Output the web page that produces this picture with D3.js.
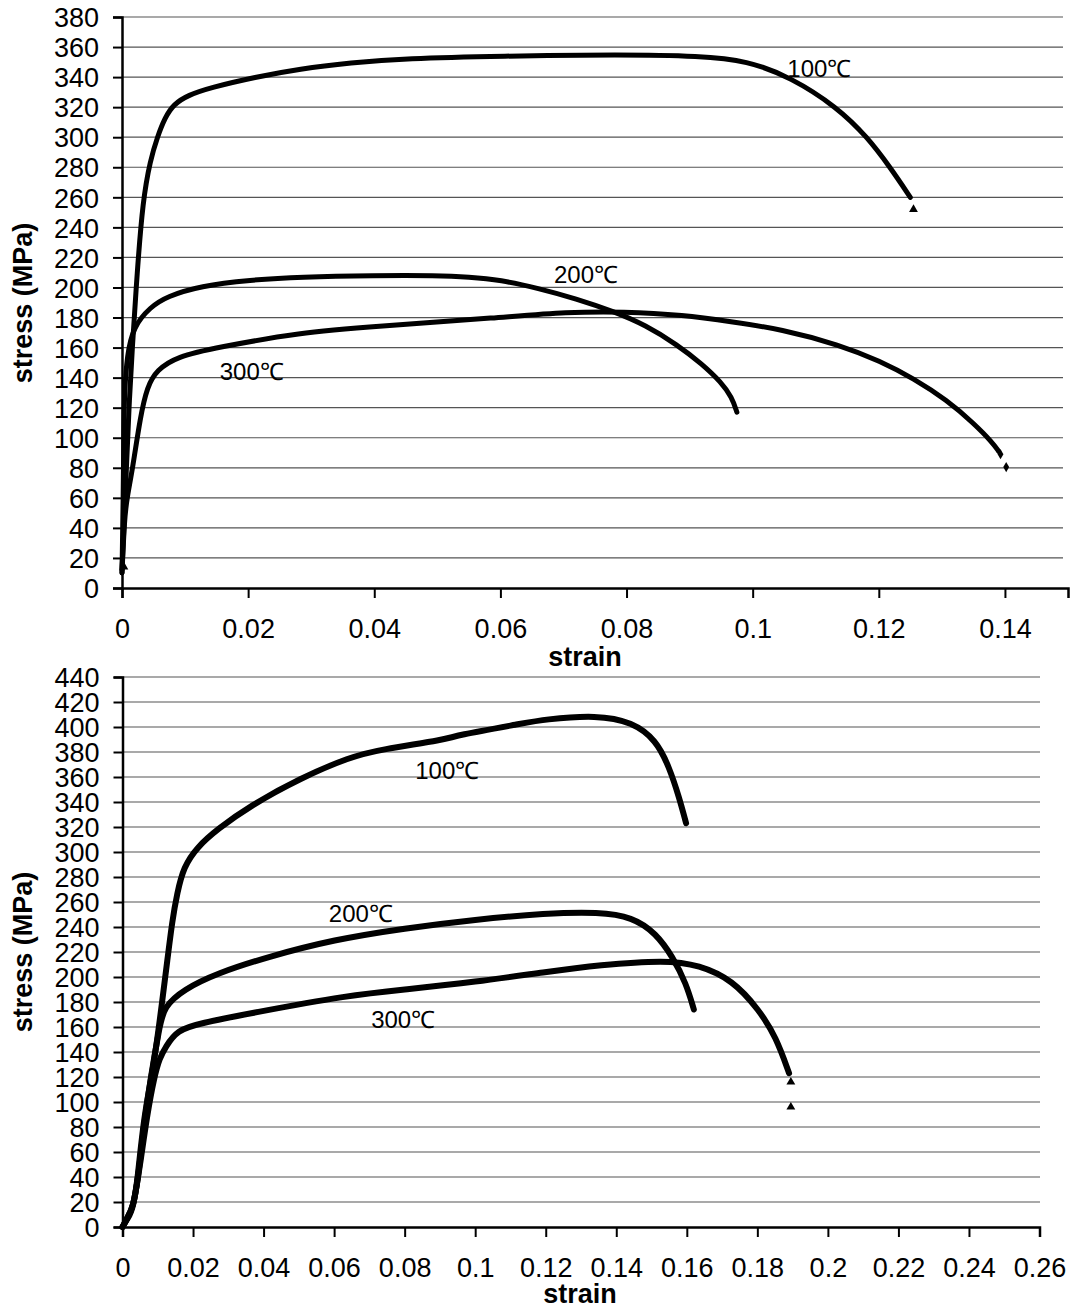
<!DOCTYPE html>
<html>
<head>
<meta charset="utf-8">
<script src="https://cdn.jsdelivr.net/npm/d3@7/dist/d3.min.js"></script>
<style>
  html, body { margin: 0; padding: 0; background: #fff; }
  svg { display: block; }
  text { font-family: "Liberation Sans", Arial, Helvetica, sans-serif; fill: #000; }
</style>
</head>
<body>
<svg id="chart" width="1075" height="1310"></svg>
<script>
// ---------- DATA: top panel ----------
const topXTicks = [0, 0.02, 0.04, 0.06, 0.08, 0.1, 0.12, 0.14];
const topYTicks = d3.range(0, 381, 20);
const top100 = [[0,12],[0.0003,40],[0.0007,80],[0.0011,120],[0.0016,158],[0.0024,210],[0.0033,258],[0.0045,285],[0.0056,300],[0.0068,313],[0.0082,322],[0.0105,328],[0.014,333],[0.0211,340],[0.0282,345.5],[0.0362,349.5],[0.045,352.5],[0.06,354],[0.0793,355],[0.0917,354],[0.0991,351],[0.106,340],[0.1134,320],[0.1182,300],[0.1218,280],[0.125,260]];
const top200 = [[0,10],[0.0002,60],[0.0003,110],[0.0004,130],[0.0008,155],[0.0018,174],[0.0045,187],[0.0071,194],[0.0124,201],[0.0203,205],[0.0282,207],[0.04,208],[0.05,208],[0.055,207],[0.06,205],[0.066,199.5],[0.072,192.5],[0.078,184],[0.083,175],[0.088,162],[0.092,149],[0.095,137],[0.0967,127],[0.0975,117]];
const top300 = [[0,10],[0.0004,47],[0.0008,60],[0.0017,80],[0.0029,114],[0.004,134],[0.0055,145],[0.0087,154],[0.015,160],[0.0282,170],[0.04,174],[0.06,180],[0.0706,183.7],[0.0795,184],[0.089,181.7],[0.0969,177],[0.1044,172.4],[0.1139,161.7],[0.1202,151],[0.1255,139.5],[0.1308,125],[0.135,109.8],[0.1381,96.5],[0.139,91]];
const topTriangles = [[0.1255,252],[0.0003,14]];
const topDiamonds = [[0.1393,89],[0.1402,80.5]];
const topLabels = [{t:"100℃", x:0.1055, y:346}, {t:"200℃", x:0.0685, y:209}, {t:"300℃", x:0.0155, y:144}];

// ---------- DATA: bottom panel ----------
const botXTicks = [0,0.02,0.04,0.06,0.08,0.1,0.12,0.14,0.16,0.18,0.2,0.22,0.24,0.26];
const botYTicks = d3.range(0, 441, 20);
const bot100 = [[0,0],[0.0015,8],[0.003,16],[0.0042,35],[0.006,88],[0.0088,128],[0.0107,168],[0.0127,213],[0.0141,245],[0.0155,267],[0.0173,288],[0.0212,304],[0.0268,318],[0.0362,337],[0.0504,359],[0.0645,376],[0.073,382],[0.092,390],[0.094,393],[0.1137,403],[0.1193,406],[0.1346,409.6],[0.1445,404],[0.1513,389.6],[0.155,368],[0.1578,344],[0.1598,323]];
const bot200 = [[0,0],[0.0015,8],[0.003,16],[0.0045,40],[0.006,80],[0.008,120],[0.0105,160],[0.0117,176],[0.0173,190],[0.0268,203],[0.041,216],[0.06,230],[0.08,239],[0.1,246],[0.12,251],[0.1352,252],[0.1445,248],[0.1513,235],[0.156,216],[0.1598,195],[0.162,174]];
const bot300 = [[0,0],[0.0015,7],[0.003,14],[0.005,50],[0.007,90],[0.009,120],[0.0105,135],[0.0122,144],[0.0155,157.6],[0.022,163],[0.0362,171],[0.0645,185.6],[0.08,190],[0.1,196],[0.12,204],[0.1352,209.6],[0.154,213.6],[0.1635,209.6],[0.173,197.6],[0.1805,173.6],[0.1853,152],[0.189,123]];
const botTriangles = [[0.1895,116],[0.1895,96]];
const botLabels = [{t:"100℃", x:0.083, y:365}, {t:"200℃", x:0.0585, y:251}, {t:"300℃", x:0.0705, y:166}];

const svg = d3.select("#chart");

function panel(cfg) {
  const x = d3.scaleLinear().domain(cfg.xDomain).range(cfg.xRange);
  const y = d3.scaleLinear().domain(cfg.yDomain).range(cfg.yRange);
  const g = svg.append("g");

  // gridlines
  g.append("g").selectAll("line").data(cfg.yTicks.filter(d => d > 0)).join("line")
    .attr("x1", x(0)).attr("x2", cfg.gridEnd)
    .attr("y1", d => y(d)).attr("y2", d => y(d))
    .attr("stroke", "#555").attr("stroke-width", 1.2);

  // y axis
  const ya = g.append("g").attr("transform", `translate(${x(0)},0)`)
    .call(d3.axisLeft(y).tickValues(cfg.yTicks).tickSize(9).tickPadding(14).tickFormat(d3.format("d")));
  ya.select(".domain").attr("stroke", "#000").attr("stroke-width", 2.5);
  ya.selectAll(".tick line").attr("stroke", "#000").attr("stroke-width", 2);
  ya.selectAll("text").style("font-size", "27px").attr("dy", "0.36em");

  // x axis
  const xa = g.append("g").attr("transform", `translate(0,${y(0)})`)
    .call(d3.axisBottom(x).tickValues(cfg.xTicks).tickSize(10).tickPadding(21).tickFormat(d => d === 0 ? "0" : String(+d.toFixed(2))));
  xa.select(".domain").attr("stroke", "#000").attr("stroke-width", 2.5);
  xa.selectAll(".tick line").attr("stroke", "#000").attr("stroke-width", 2);
  xa.selectAll("text").style("font-size", "27px");

  // curves
  const line = d3.line().x(d => x(d[0])).y(d => y(d[1])).curve(d3.curveBasis);
  cfg.series.forEach(s => {
    g.append("path").datum(s).attr("d", line)
      .attr("fill", "none").attr("stroke", "#000")
      .attr("stroke-width", cfg.lineWidth).attr("stroke-linecap", "round").attr("stroke-linejoin", "round");
  });

  // markers
  g.append("g").selectAll("path").data(cfg.triangles).join("path")
    .attr("d", d3.symbol(d3.symbolTriangle, 34))
    .attr("transform", d => `translate(${x(d[0])},${y(d[1])})`).attr("fill", "#000");
  g.append("g").selectAll("path").data(cfg.diamonds).join("path")
    .attr("d", d3.symbol(d3.symbolDiamond, 30))
    .attr("transform", d => `translate(${x(d[0])},${y(d[1])})`).attr("fill", "#000");

  // labels
  g.append("g").selectAll("text").data(cfg.labels).join("text")
    .attr("x", d => x(d.x)).attr("y", d => y(d.y))
    .attr("dy", "0.36em").style("font-size", "24px").text(d => d.t);

  // axis titles
  g.append("text").attr("x", cfg.xTitle[0]).attr("y", cfg.xTitle[1])
    .attr("text-anchor", "middle").style("font-size", "27px").style("font-weight", "bold").text("strain");
  g.append("text").attr("transform", `translate(${cfg.yTitle[0]},${cfg.yTitle[1]}) rotate(-90)`)
    .attr("text-anchor", "middle").style("font-size", "27px").style("font-weight", "bold").text("stress (MPa)");
}

panel({
  xDomain: [0, 0.15], xRange: [122, 1068],
  yDomain: [0, 380], yRange: [588, 17],
  gridEnd: 1063,
  xTicks: topXTicks, yTicks: topYTicks,
  series: [top100, top200, top300], lineWidth: 5,
  triangles: topTriangles, diamonds: topDiamonds, labels: topLabels,
  xTitle: [585, 666], yTitle: [32, 303]
});

panel({
  xDomain: [0, 0.26], xRange: [122.5, 1039.5],
  yDomain: [0, 440], yRange: [1227, 677],
  gridEnd: 1040,
  xTicks: botXTicks, yTicks: botYTicks,
  series: [bot100, bot200, bot300], lineWidth: 6,
  triangles: botTriangles, diamonds: [], labels: botLabels,
  xTitle: [580, 1303], yTitle: [32, 952]
});
</script>
</body>
</html>
